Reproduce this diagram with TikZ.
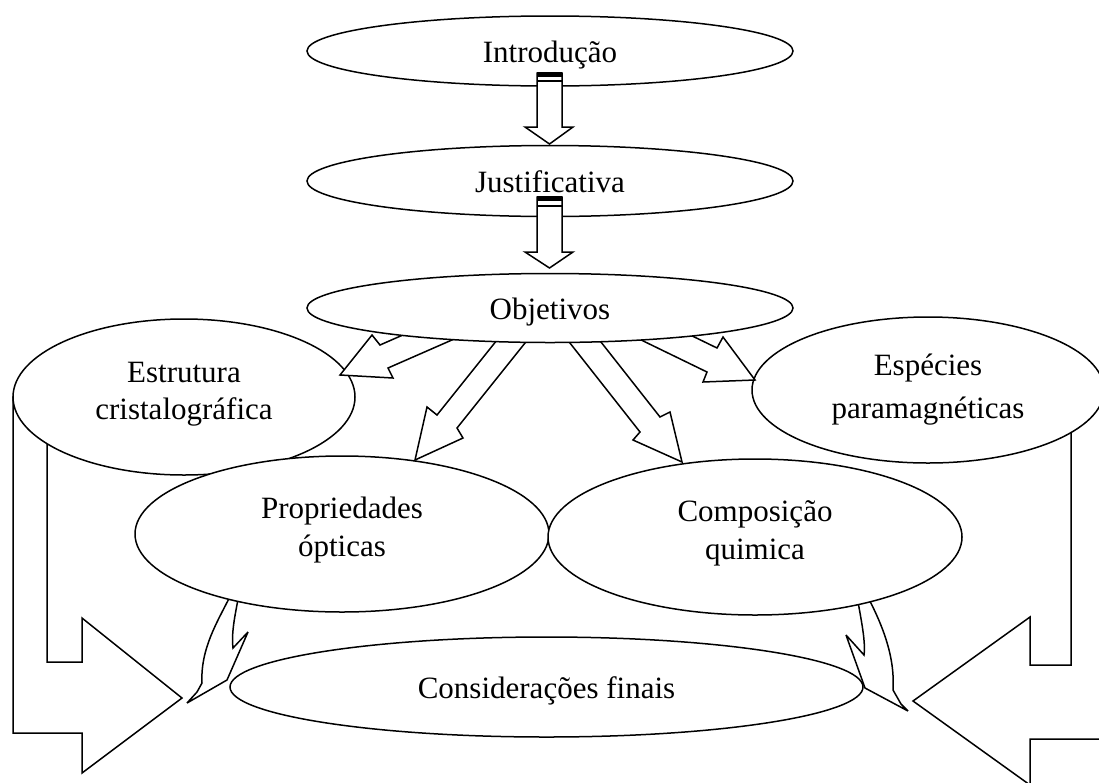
\documentclass[tikz,border=0pt]{standalone}
\usepackage{fontspec}
\setmainfont{Liberation Serif}
\usetikzlibrary{shapes.geometric}
\begin{document}
\begin{tikzpicture}[x=1pt,y=-1pt,
  every node/.style={font=\fontsize{31}{37}\selectfont},
  box/.style={ellipse, draw, fill=white, line width=1.5pt, inner sep=0pt, align=center},
  one/.style={text height=22pt, text depth=0pt},
  two/.style={text height=44pt, text depth=0pt},
  blk/.style={draw, fill=white, line width=1.5pt, line join=miter, miter limit=4}]
\useasboundingbox (0,0) rectangle (1099,782);
\clip (0,0) rectangle (1099,782);

% big bent arrows (behind side ellipses)
\draw[blk] (13,397) -- (13,733) -- (82,733) -- (82,773) -- (182,698) -- (82,618) -- (82,662) -- (47,662) -- (47,397) -- cycle;
\draw[blk] (1071,390) -- (1071,665) -- (1030,665) -- (1030,617) -- (913,701) -- (1030,785) -- (1030,739) -- (1106,739) -- (1106,390) -- cycle;

% curved arrows into Consideracoes finais
\draw[blk] (234,588) .. controls (222,615) and (200,645) .. (202,683) -- (197,692) -- (187,703) -- (227,680) -- (248,632) -- (233,648) .. controls (231,630) and (236,612) .. (240,588) -- cycle;
\draw[blk] (856,590) .. controls (860,615) and (866,640) .. (864,655) -- (846,635) -- (865,688) -- (908,711) -- (901,704) -- (893,690) .. controls (895,660) and (885,628) .. (864,590) -- cycle;

% side and lower nodes
\node[box, two, minimum width=342pt, minimum height=156pt] (estr) at (184,397) {Estrutura\\cristalográfica};
\node[box, two, text height=56pt, minimum width=352pt, minimum height=146pt, font=\fontsize{31}{43}\selectfont] (esp) at (928,390) {Espécies\\paramagnéticas};
\node[box, two, minimum width=414pt, minimum height=156pt, font=\fontsize{31}{38}\selectfont] (prop) at (342,534) {Propriedades\\ópticas};
\node[box, two, minimum width=414pt, minimum height=156pt, font=\fontsize{31}{38}\selectfont] (comp) at (755,537) {Composição\\quimica};
\node[box, one, minimum width=633pt, minimum height=100pt] (cons) at (546.5,687) {Considerações finais};

% arrows from Objetivos
\draw[blk] (453,313) -- (380,345) -- (372,335) -- (340,375) -- (393,378) -- (388,368) -- (461,336) -- cycle;
\draw[blk] (645,313) -- (717,348) -- (723,337) -- (755,380) -- (703,382) -- (707,372) -- (635,337) -- cycle;
\draw[blk] (509,325) -- (437,415) -- (427,407) -- (415,460) -- (463,438) -- (457,428) -- (529,338) -- cycle;
\draw[blk] (566,338) -- (640,432) -- (633,440) -- (682,462) -- (670,412) -- (660,417) -- (586,323) -- cycle;

% top chain
\node[box, one, minimum width=486pt, minimum height=69pt] (obj) at (550,308) {Objetivos};
\node[box, one, minimum width=486pt, minimum height=71pt] (just) at (550,181) {Justificativa};
\node[box, one, minimum width=486pt, minimum height=70pt] (intro) at (550,51) {Introdução};

\draw[blk] (537,73) -- (537,127) -- (525,127) -- (549.5,144) -- (573,127) -- (562,127) -- (562,73) -- cycle;
\fill (537,72) rectangle (562,77);
\draw[line width=1.2pt] (537,81) -- (562,81);

\draw[blk] (537,197) -- (537,252) -- (525,252) -- (549.5,268) -- (573,252) -- (562,252) -- (562,197) -- cycle;
\fill (537,196) rectangle (562,201);
\draw[line width=1.2pt] (537,206) -- (562,206);
\end{tikzpicture}
\end{document}
